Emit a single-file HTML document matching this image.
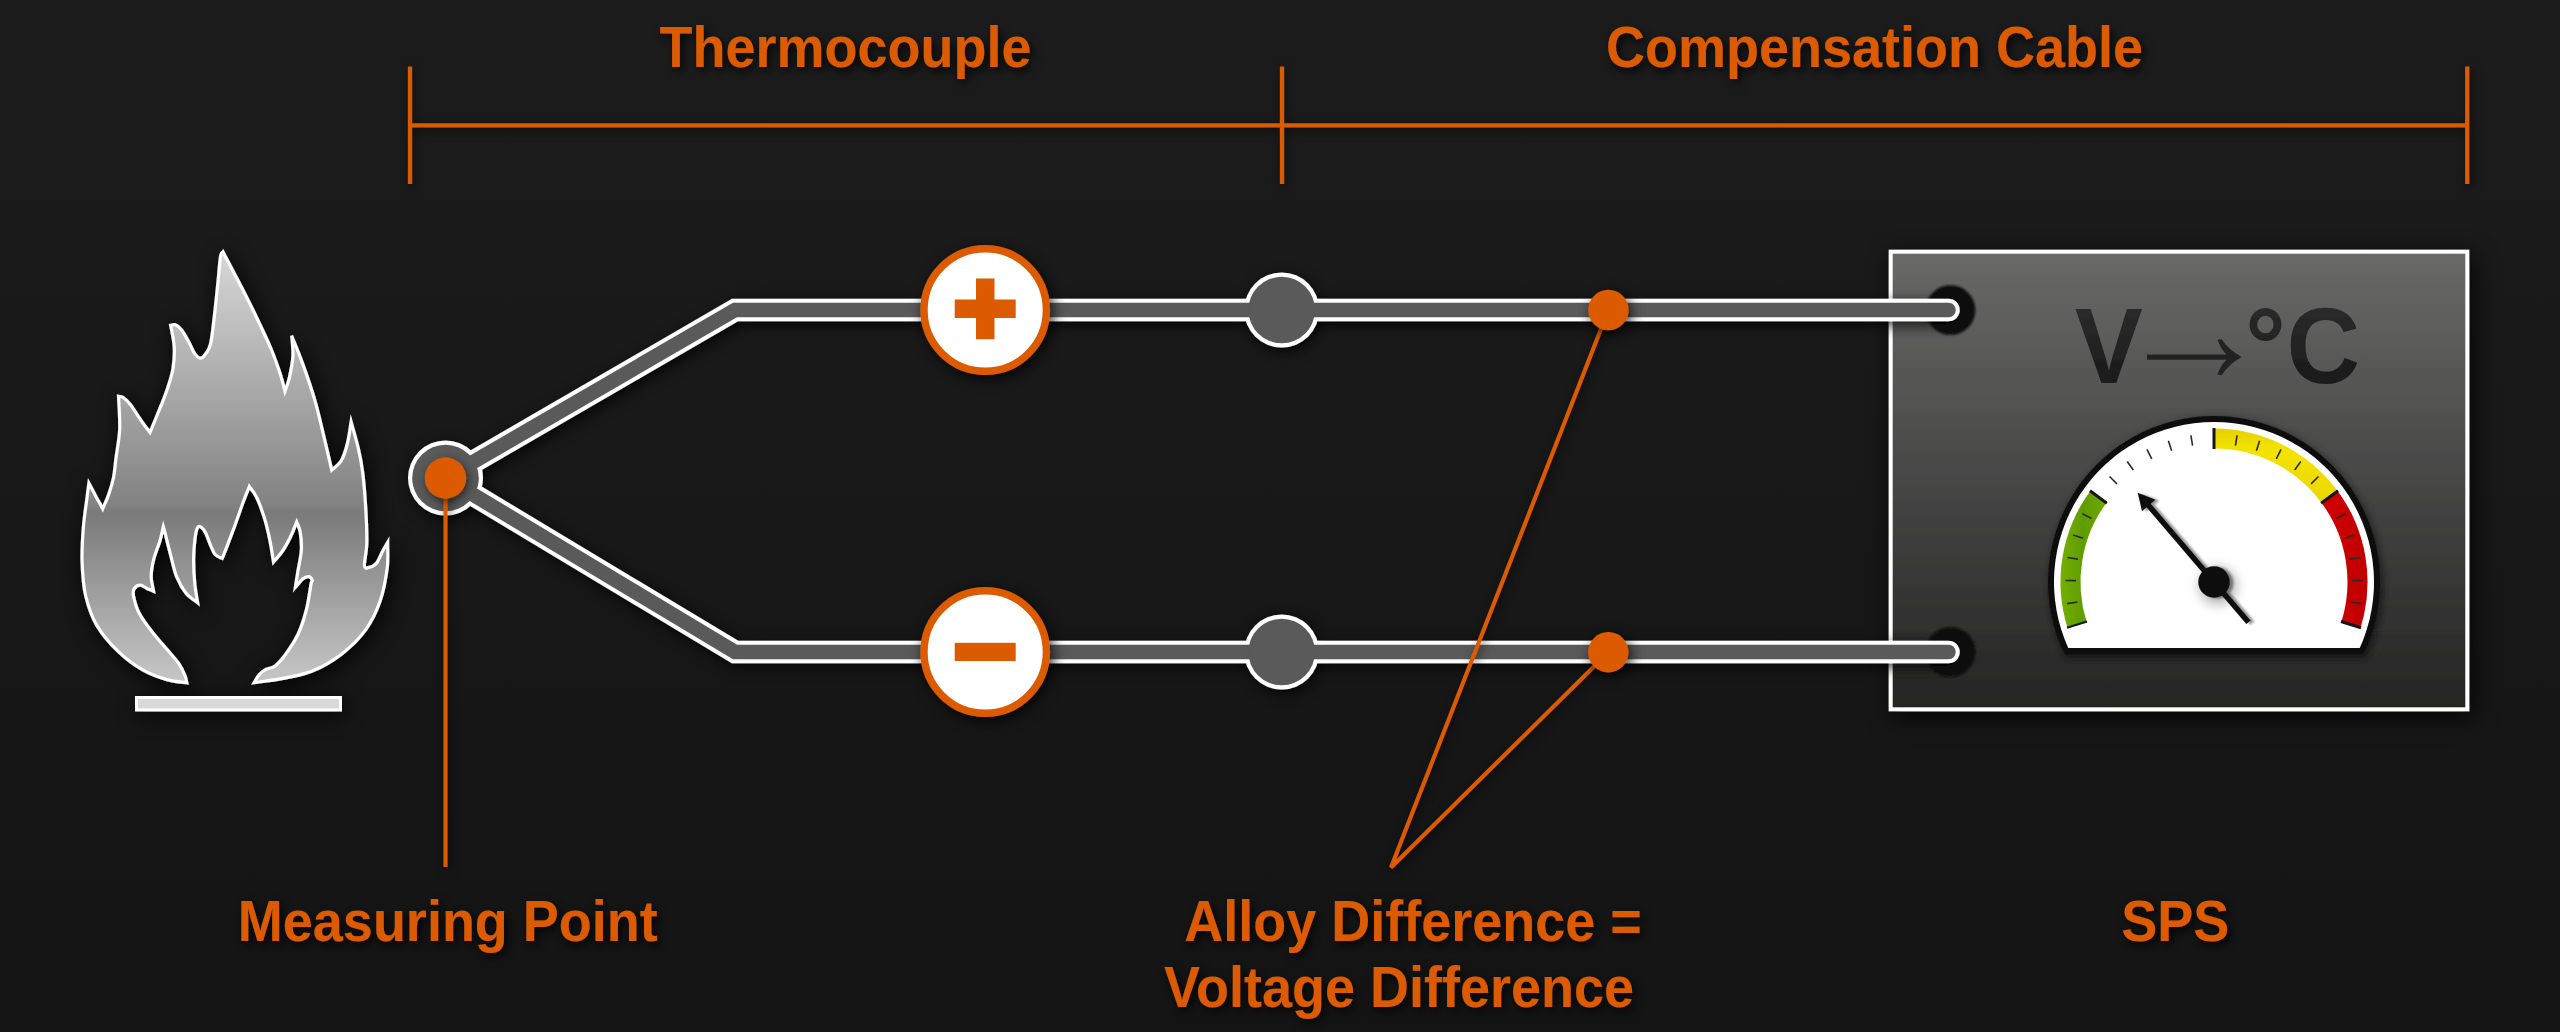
<!DOCTYPE html>
<html><head><meta charset="utf-8"><title>Thermocouple</title>
<style>
html,body{margin:0;padding:0;background:#161616;}
body{width:2560px;height:1032px;overflow:hidden;}
svg{display:block;}
text{font-family:"Liberation Sans",sans-serif;font-weight:bold;}
</style></head><body>
<svg width="2560" height="1032" viewBox="0 0 2560 1032">
<defs>
<linearGradient id="bg" x1="0" y1="0" x2="0" y2="1"><stop offset="0" stop-color="#1c1c1c"/><stop offset="1" stop-color="#141414"/></linearGradient>
<linearGradient id="flameG" gradientUnits="userSpaceOnUse" x1="0" y1="250" x2="0" y2="690">
<stop offset="0" stop-color="#d8d8d8"/><stop offset="0.58" stop-color="#828282"/><stop offset="0.597" stop-color="#7a7a7a"/><stop offset="1" stop-color="#cacaca"/></linearGradient>
<linearGradient id="boxG" x1="0" y1="0" x2="0" y2="1"><stop offset="0" stop-color="#696968"/><stop offset="1" stop-color="#242423"/></linearGradient>
<linearGradient id="txtG" x1="0" y1="0" x2="0" y2="1"><stop offset="0" stop-color="#2f2f2f"/><stop offset="1" stop-color="#161616"/></linearGradient>
<linearGradient id="gGreen" gradientUnits="userSpaceOnUse" x1="2060" y1="0" x2="2110" y2="0"><stop offset="0" stop-color="#76b000"/><stop offset="0.45" stop-color="#5f9c00"/><stop offset="1" stop-color="#70aa05"/></linearGradient>
<linearGradient id="gYellow" gradientUnits="userSpaceOnUse" x1="0" y1="428" x2="0" y2="500"><stop offset="0" stop-color="#e6d000"/><stop offset="0.3" stop-color="#f4e300"/><stop offset="1" stop-color="#ebd800"/></linearGradient>
<linearGradient id="gRed" gradientUnits="userSpaceOnUse" x1="2320" y1="0" x2="2368" y2="0"><stop offset="0" stop-color="#d20000"/><stop offset="1" stop-color="#bf0000"/></linearGradient>
<filter id="sh" filterUnits="userSpaceOnUse" x="0" y="0" width="2560" height="1032"><feDropShadow dx="3" dy="4" stdDeviation="7" flood-color="#000" flood-opacity="0.8"/></filter>
<filter id="shF" filterUnits="userSpaceOnUse" x="0" y="0" width="2560" height="1032"><feDropShadow dx="3" dy="4" stdDeviation="10" flood-color="#000" flood-opacity="0.9"/></filter>
<filter id="shB" filterUnits="userSpaceOnUse" x="0" y="0" width="2560" height="1032"><feDropShadow dx="4" dy="6" stdDeviation="12" flood-color="#000" flood-opacity="0.85"/></filter>
<filter id="shG" filterUnits="userSpaceOnUse" x="0" y="0" width="2560" height="1032"><feDropShadow dx="2" dy="3" stdDeviation="5" flood-color="#000" flood-opacity="0.6"/></filter>
<filter id="shT" filterUnits="userSpaceOnUse" x="0" y="0" width="2560" height="1032"><feDropShadow dx="3" dy="4" stdDeviation="5" flood-color="#000" flood-opacity="0.8"/></filter>
<filter id="shL" filterUnits="userSpaceOnUse" x="0" y="0" width="2560" height="1032"><feDropShadow dx="2" dy="3" stdDeviation="5" flood-color="#000" flood-opacity="0.6"/></filter>
<filter id="shN" filterUnits="userSpaceOnUse" x="2000" y="380" width="420" height="300"><feDropShadow dx="3.800" dy="0.800" stdDeviation="1.300" flood-color="#000" flood-opacity="0.42"/></filter>
<filter id="hubB" x="-100%" y="-100%" width="300%" height="300%"><feGaussianBlur stdDeviation="6"/></filter>
<filter id="allBlur" filterUnits="userSpaceOnUse" x="0" y="0" width="2560" height="1032"><feGaussianBlur stdDeviation="0.650"/></filter>
<filter id="soft" x="-20%" y="-20%" width="140%" height="140%"><feGaussianBlur stdDeviation="1.200"/></filter>
</defs>
<rect width="2560" height="1032" fill="url(#bg)"/>
<g filter="url(#allBlur)">

<!-- bracket lines -->
<g filter="url(#shL)" stroke="#dc5a00" stroke-width="4.200" fill="none">
<path d="M410 66.500V184 M1282 66.500V184 M2467.200 66.500V184 M410 125.400H2467.200"/>
</g>

<!-- flame -->
<g filter="url(#shF)">
<path d="M223.1 252.1 C225.9 257.4 234.0 272.7 239.6 283.6 C245.2 294.5 251.3 306.6 256.6 317.5 C261.8 328.4 267.1 339.3 271.1 349.0 C275.2 358.7 278.5 368.6 280.8 375.7 C283.1 382.8 284.2 388.8 284.9 391.4 C285.7 389.2 288.0 384.0 289.3 378.1 C290.6 372.3 292.5 363.4 292.9 356.3 C293.3 349.2 291.9 339.1 291.7 335.7 C293.5 340.4 298.8 352.9 302.6 363.6 C306.5 374.3 311.1 387.4 314.7 399.9 C318.4 412.4 321.6 427.0 324.4 438.7 C327.2 450.4 330.5 464.9 331.7 470.2 C333.3 468.6 338.8 464.9 341.4 460.5 C344.0 456.1 345.8 450.0 347.4 443.5 C349.1 437.1 350.5 425.4 351.1 421.7 C352.3 426.2 356.4 439.9 358.3 448.4 C360.3 456.9 361.5 463.0 362.7 472.6 C363.9 482.3 364.9 494.7 365.6 506.3 C366.3 518.0 367.0 532.8 366.8 542.7 C366.6 552.6 364.0 561.6 364.4 565.7 C364.8 569.8 367.2 567.8 369.2 567.4 C371.3 567.0 374.3 566.0 376.5 563.3 C378.7 560.6 380.7 554.7 382.6 551.2 C384.4 547.7 386.8 543.7 387.7 542.2 C387.6 546.5 388.4 558.4 387.2 568.1 C385.9 577.9 383.7 590.5 380.2 600.8 C376.6 611.1 372.1 621.0 365.6 629.9 C359.2 638.8 350.3 647.3 341.4 654.2 C332.5 661.0 322.0 667.1 312.3 671.1 C302.6 675.2 292.9 676.4 283.2 678.4 C273.5 680.3 259.0 682.0 254.2 682.7 C255.0 681.4 257.0 677.0 259.0 674.7 C261.0 672.5 263.6 670.6 266.3 669.2 C268.9 667.8 271.5 668.8 274.7 666.3 C278.0 663.8 281.8 659.4 285.7 654.2 C289.5 648.9 294.3 642.0 297.8 634.8 C301.2 627.5 304.0 619.0 306.2 610.5 C308.5 602.1 310.1 588.9 311.1 583.9 C312.1 578.8 312.7 581.5 312.3 580.2 C311.9 579.0 310.3 576.8 308.7 576.6 C307.1 576.4 304.8 577.2 302.6 579.0 C300.4 580.9 296.6 586.1 295.3 587.5 C295.7 584.9 296.8 578.0 297.8 571.8 C298.8 565.5 301.0 556.6 301.4 550.0 C301.8 543.3 301.0 536.5 300.2 531.8 C299.4 527.1 297.2 523.5 296.6 521.9 C295.7 523.9 293.9 529.5 291.7 534.2 C289.5 538.9 286.3 545.3 283.2 550.0 C280.2 554.6 275.2 560.1 273.5 562.1 C272.9 558.4 271.5 547.9 269.9 540.3 C268.3 532.6 266.1 523.2 263.8 516.0 C261.6 508.8 259.0 502.1 256.6 497.1 C254.2 492.2 250.5 488.3 249.3 486.5 C248.3 489.1 245.7 495.4 243.2 502.0 C240.8 508.5 237.4 518.5 234.8 525.7 C232.1 532.9 229.6 539.7 227.5 545.1 C225.4 550.6 223.1 556.2 222.2 558.4 C221.0 557.8 217.3 557.0 215.4 554.8 C213.4 552.6 212.2 548.7 210.5 545.1 C208.9 541.5 207.3 536.0 205.7 533.0 C204.1 530.0 202.3 527.7 200.8 526.9 C199.4 526.1 198.2 525.9 197.2 528.2 C196.2 530.4 195.4 535.0 194.8 540.3 C194.2 545.5 193.6 552.4 193.6 559.7 C193.6 566.9 194.1 576.7 194.8 583.9 C195.5 591.1 197.2 599.6 197.7 602.8 C195.8 601.2 189.8 597.9 186.3 593.6 C182.8 589.2 179.2 583.1 176.6 576.6 C174.0 570.2 172.4 561.7 170.6 554.8 C168.7 547.9 166.9 540.1 165.7 535.4 C164.5 530.7 163.7 528.2 163.3 526.7 C162.7 529.2 161.3 536.0 159.7 541.5 C158.0 547.0 155.0 553.8 153.6 559.7 C152.2 565.5 151.2 571.4 151.2 576.6 C151.2 581.9 153.2 588.7 153.6 591.2 C152.6 590.7 149.8 589.7 147.5 588.7 C145.3 587.7 142.5 585.1 140.3 585.1 C138.0 585.1 135.3 586.9 134.2 588.7 C133.1 590.5 132.7 592.0 133.5 596.0 C134.3 600.0 135.9 606.9 139.1 613.0 C142.2 619.0 147.7 626.3 152.4 632.3 C157.0 638.4 162.5 644.1 166.9 649.3 C171.4 654.6 176.0 659.4 179.0 663.8 C182.1 668.3 183.8 672.8 185.1 676.0 C186.4 679.1 186.5 681.6 186.8 682.7 C183.5 682.2 174.3 681.7 166.9 679.6 C159.6 677.5 150.8 674.5 142.7 669.9 C134.6 665.3 126.1 659.2 118.5 651.7 C110.8 644.3 102.1 634.4 96.7 625.1 C91.2 615.8 88.2 606.5 85.7 596.0 C83.3 585.5 82.5 573.4 82.1 562.1 C81.7 550.8 82.5 538.9 83.3 528.2 C84.1 517.5 86.0 505.4 87.0 497.9 C87.9 490.4 88.6 485.5 88.9 483.1 C90.0 485.1 93.1 491.2 95.4 495.4 C97.7 499.7 101.5 506.5 102.7 508.8 C103.7 506.3 107.0 499.5 108.8 494.2 C110.6 489.0 112.4 483.3 113.6 477.3 C114.8 471.2 115.0 466.1 116.0 458.1 C117.0 450.0 119.3 439.3 119.7 429.0 C120.1 418.7 118.7 401.7 118.5 396.3 C119.3 396.5 121.3 396.1 123.3 397.5 C125.3 398.9 127.7 401.1 130.6 404.8 C133.4 408.4 137.0 414.7 140.3 419.3 C143.5 424.0 148.3 430.4 150.0 432.6 C151.4 429.2 155.6 419.1 158.4 412.0 C161.3 405.0 164.5 397.5 166.9 390.2 C169.3 383.0 171.8 375.7 173.0 368.4 C174.2 361.2 174.6 353.8 174.2 346.6 C173.8 339.4 171.2 328.8 170.6 325.3 C171.4 325.2 173.6 324.1 175.4 324.8 C177.2 325.5 179.2 326.8 181.5 329.7 C183.7 332.5 186.5 337.7 188.7 341.8 C191.0 345.8 192.8 351.1 194.8 353.9 C196.8 356.6 199.0 358.2 200.8 358.2 C202.7 358.2 204.1 356.2 205.7 353.9 C207.3 351.5 209.1 350.2 210.5 344.2 C212.0 338.1 213.0 327.6 214.2 317.5 C215.4 307.4 216.8 293.8 217.8 283.6 C218.9 273.4 219.6 261.7 220.5 256.5 C221.4 251.2 222.7 252.8 223.1 252.1Z" fill="url(#flameG)" stroke="#ffffff" stroke-width="3.200" stroke-linejoin="miter" stroke-miterlimit="6"/>
<rect x="136.500" y="697.500" width="204" height="12.500" fill="#d9d9d9" stroke="#ffffff" stroke-width="3"/>
</g>

<!-- box -->
<rect x="1890.700" y="251.700" width="576.600" height="457.600" fill="url(#boxG)" stroke="#ffffff" stroke-width="4" filter="url(#shB)"/>
<g filter="url(#soft)">
<circle cx="1950.500" cy="310" r="24.800" fill="#0b0b0b"/>
<circle cx="1950.500" cy="652" r="24.800" fill="#0b0b0b"/>
</g>

<!-- wires -->
<g filter="url(#sh)">
<path d="M1948.500 310H735L445.500 478L735 652H1948.500" fill="none" stroke="#ffffff" stroke-width="22.500" stroke-linejoin="miter" stroke-linecap="round"/>
<circle cx="445.500" cy="478" r="37.500" fill="#ffffff"/>
<circle cx="1281.700" cy="310" r="37.500" fill="#ffffff"/>
<circle cx="1281.700" cy="652" r="37.500" fill="#ffffff"/>
</g>
<path d="M1948.500 310H735L445.500 478L735 652H1948.500" fill="none" stroke="#5a5a5a" stroke-width="14.500" stroke-linejoin="miter" stroke-linecap="round"/>
<circle cx="445.500" cy="478" r="33.300" fill="#5a5a5a"/>
<circle cx="1281.700" cy="310" r="33.300" fill="#5a5a5a"/>
<circle cx="1281.700" cy="652" r="33.300" fill="#5a5a5a"/>

<!-- pointer lines -->
<g filter="url(#shL)" stroke="#dc5a00" stroke-width="4.100" fill="none" stroke-linejoin="miter">
<path d="M445.500 478V867"/>
<path d="M1608.400 310L1391 867.500L1608.400 652.200"/>
</g>
<g filter="url(#shG)">
<circle cx="445.500" cy="478" r="20.700" fill="#dc5a00"/>
</g>
<g filter="url(#sh)">
<circle cx="1608.400" cy="310" r="20.200" fill="#dc5a00"/>
<circle cx="1608.300" cy="652.200" r="20.200" fill="#dc5a00"/>
</g>

<!-- plus / minus -->
<g filter="url(#sh)">
<circle cx="985.200" cy="310" r="61.200" fill="#ffffff" stroke="#dc5a00" stroke-width="7.400"/>
<circle cx="985.200" cy="652" r="61.200" fill="#ffffff" stroke="#dc5a00" stroke-width="7.400"/>
</g>
<path d="M954.700 299.600H976V278.400H994.500V299.600H1015.700V318.100H994.500V339.200H976V318.100H954.700Z" fill="#dc5a00"/>
<rect x="954.700" y="642.800" width="61" height="18.200" fill="#dc5a00"/>

<!-- V -> C -->
<g fill="url(#txtG)" font-size="102">
<text transform="translate(2074.800 383.100) scale(1 1.05)">V</text>
<text transform="translate(2245.100 383.100) scale(1 1.05)">°</text>
<text transform="translate(2286.500 383.100) scale(1 1.05)">C</text>
</g>
<path d="M2241.700 357.100Q2229.500 350.500 2221.600 339.300L2217.400 339.800Q2221 349.500 2226.500 354.400L2147 354.400L2147 359.800L2226.500 359.800Q2221 364.700 2217.400 374.600L2221.600 375.200Q2229.500 363.700 2241.700 357.100Z" fill="#242424"/>

<path d="M2064.57 654.30 A166 166 0 1 1 2363.43 654.30 Z" fill="#101010" filter="url(#shG)"/>
<path d="M2068.25 648.00 A160 160 0 1 1 2359.75 648.00 Z" fill="#ffffff"/>
<path d="M2067.44 627.65 A153.5 153.5 0 0 1 2090.37 491.02 L2106.48 502.87 A133.5 133.5 0 0 0 2086.54 621.70 Z" fill="url(#gGreen)"/>
<path d="M2214.00 428.50 A153.5 153.5 0 0 1 2337.63 491.02 L2321.52 502.87 A133.5 133.5 0 0 0 2214.00 448.50 Z" fill="url(#gYellow)"/>
<path d="M2337.63 491.02 A153.5 153.5 0 0 1 2360.56 627.65 L2341.46 621.70 A133.5 133.5 0 0 0 2321.52 502.87 Z" fill="url(#gRed)"/>
<line x1="2087.02" y1="621.55" x2="2066.97" y2="627.80" stroke="#141414" stroke-width="2.2"/>
<line x1="2077.47" y1="602.06" x2="2067.08" y2="603.59" stroke="#2a2a2a" stroke-width="1.6"/>
<line x1="2076.01" y1="580.60" x2="2065.51" y2="580.49" stroke="#2a2a2a" stroke-width="1.6"/>
<line x1="2077.90" y1="559.16" x2="2067.55" y2="557.43" stroke="#2a2a2a" stroke-width="1.6"/>
<line x1="2083.11" y1="538.29" x2="2073.15" y2="534.96" stroke="#2a2a2a" stroke-width="1.6"/>
<line x1="2091.49" y1="518.47" x2="2082.17" y2="513.64" stroke="#2a2a2a" stroke-width="1.6"/>
<line x1="2106.88" y1="503.17" x2="2089.97" y2="490.72" stroke="#141414" stroke-width="3.0"/>
<line x1="2116.92" y1="483.92" x2="2109.53" y2="476.46" stroke="#2a2a2a" stroke-width="1.6"/>
<line x1="2133.34" y1="470.03" x2="2127.20" y2="461.51" stroke="#2a2a2a" stroke-width="1.6"/>
<line x1="2151.73" y1="458.85" x2="2146.99" y2="449.48" stroke="#2a2a2a" stroke-width="1.6"/>
<line x1="2171.62" y1="450.67" x2="2168.40" y2="440.67" stroke="#2a2a2a" stroke-width="1.6"/>
<line x1="2192.55" y1="445.68" x2="2190.92" y2="435.30" stroke="#2a2a2a" stroke-width="1.6"/>
<line x1="2214.00" y1="449.00" x2="2214.00" y2="428.00" stroke="#141414" stroke-width="3.0"/>
<line x1="2235.45" y1="445.68" x2="2237.08" y2="435.30" stroke="#2a2a2a" stroke-width="1.6"/>
<line x1="2256.38" y1="450.67" x2="2259.60" y2="440.67" stroke="#2a2a2a" stroke-width="1.6"/>
<line x1="2276.27" y1="458.85" x2="2281.01" y2="449.48" stroke="#2a2a2a" stroke-width="1.6"/>
<line x1="2294.66" y1="470.03" x2="2300.80" y2="461.51" stroke="#2a2a2a" stroke-width="1.6"/>
<line x1="2311.08" y1="483.92" x2="2318.47" y2="476.46" stroke="#2a2a2a" stroke-width="1.6"/>
<line x1="2321.12" y1="503.17" x2="2338.03" y2="490.72" stroke="#141414" stroke-width="3.0"/>
<line x1="2336.51" y1="518.47" x2="2345.83" y2="513.64" stroke="#2a2a2a" stroke-width="1.6"/>
<line x1="2344.89" y1="538.29" x2="2354.85" y2="534.96" stroke="#2a2a2a" stroke-width="1.6"/>
<line x1="2350.10" y1="559.16" x2="2360.45" y2="557.43" stroke="#2a2a2a" stroke-width="1.6"/>
<line x1="2351.99" y1="580.60" x2="2362.49" y2="580.49" stroke="#2a2a2a" stroke-width="1.6"/>
<line x1="2350.53" y1="602.06" x2="2360.92" y2="603.59" stroke="#2a2a2a" stroke-width="1.6"/>
<line x1="2340.98" y1="621.55" x2="2361.03" y2="627.80" stroke="#141414" stroke-width="3.0"/>
<circle cx="2218.0" cy="586.0" r="19" fill="#000" opacity="0.28" filter="url(#hubB)"/>
<g filter="url(#shN)">
<line x1="2248.42" y1="622.30" x2="2147.11" y2="503.68" stroke="#0c0c0c" stroke-width="5.5"/>
<path d="M2137.69 492.65 L2155.42 499.86 L2142.04 511.29 Z" fill="#0c0c0c"/>
<circle cx="2214" cy="582" r="15.700" fill="#0c0c0c"/>
</g>

<!-- labels -->
<g fill="#dc5a00" font-size="54.0" filter="url(#shT)" text-anchor="middle">
<text transform="translate(845.500 67.200) scale(1 1.075)">Thermocouple</text>
<text transform="translate(1874.500 67.200) scale(1 1.075)">Compensation Cable</text>
<text transform="translate(447.800 941) scale(1 1.075)">Measuring Point</text>
<text transform="translate(1413 941) scale(1 1.075)">Alloy Difference =</text>
<text transform="translate(1399 1007) scale(1 1.075)">Voltage Difference</text>
<text transform="translate(2175.200 941) scale(1 1.075)">SPS</text>
</g>
</g>
</svg>
</body></html>
